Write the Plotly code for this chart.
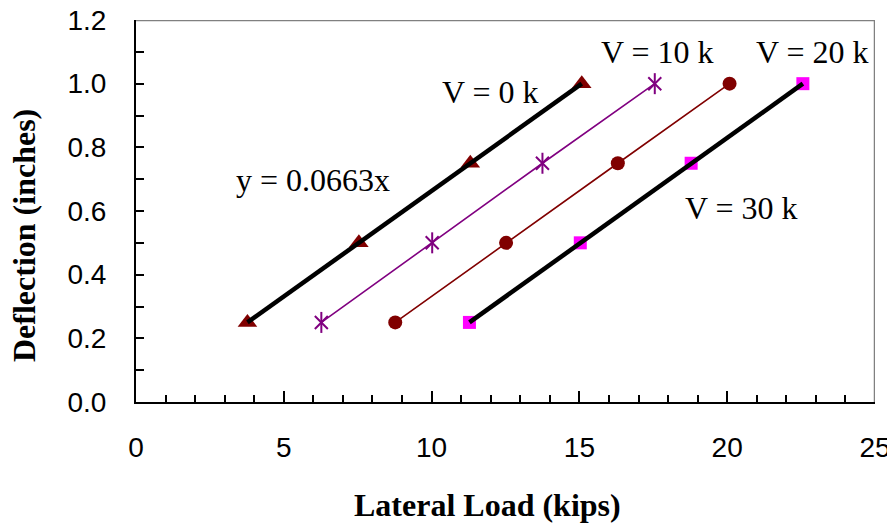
import plotly.graph_objects as go

# Data (lateral load in kips, deflection in inches)
deflection = [0.25, 0.50, 0.75, 1.00]
load_v0 = [3.77, 7.54, 11.31, 15.08]
load_v10 = [6.27, 10.02, 13.75, 17.55]
load_v20 = [8.77, 12.52, 16.30, 20.08]
load_v30 = [11.28, 15.03, 18.78, 22.56]

series_labels = ["V = 0 k", "V = 10 k", "V = 20 k", "V = 30 k"]
label_x = [12.0, 17.63, 22.87, 20.5]
label_y = [0.974, 1.10, 1.10, 0.609]
eq_text = "y = 0.0663x"
eq_x, eq_y = 5.99, 0.697

x_ticks = [0, 5, 10, 15, 20, 25]
y_ticks = [0.0, 0.2, 0.4, 0.6, 0.8, 1.0, 1.2]
x_range = [0, 25]
y_range = [0, 1.2]

fig = go.Figure()

# gray frame (top and right edges of the plot area), from the axis ranges
fig.add_trace(go.Scatter(x=[x_range[0], x_range[1], x_range[1]],
                         y=[y_range[1], y_range[1], y_range[0]],
                         mode="lines", line=dict(color="#808080", width=2.5),
                         cliponaxis=False, hoverinfo="skip"))

# V = 0 markers + black trend line
fig.add_trace(go.Scatter(x=load_v0, y=deflection, mode="markers",
                         marker=dict(symbol="triangle-up", size=17, color="#800000")))
fig.add_trace(go.Scatter(x=load_v0, y=deflection, mode="lines",
                         line=dict(color="black", width=4.5)))
# V = 10
fig.add_trace(go.Scatter(x=load_v10, y=deflection, mode="lines",
                         line=dict(color="#800080", width=1.6)))
fig.add_trace(go.Scatter(x=load_v10, y=deflection, mode="markers",
                         marker=dict(symbol="x-thin-open", size=13, color="#800080",
                                     line=dict(color="#800080", width=2))))
fig.add_trace(go.Scatter(x=load_v10, y=deflection, mode="markers",
                         marker=dict(symbol="line-ns-open", size=15, color="#800080",
                                     line=dict(color="#800080", width=2))))
# V = 20
fig.add_trace(go.Scatter(x=load_v20, y=deflection, mode="lines+markers",
                         line=dict(color="#800000", width=1.6),
                         marker=dict(symbol="circle", size=14, color="#800000")))
# V = 30
fig.add_trace(go.Scatter(x=load_v30, y=deflection, mode="markers",
                         marker=dict(symbol="square", size=13, color="#FF00FF")))
fig.add_trace(go.Scatter(x=load_v30, y=deflection, mode="lines",
                         line=dict(color="black", width=4.5)))

serif = "Liberation Serif, Times New Roman, serif"
for t, xv, yv in zip(series_labels, label_x, label_y):
    fig.add_annotation(x=xv, y=yv, text=t, showarrow=False,
                       xanchor="center", yanchor="middle",
                       font=dict(family=serif, size=32, color="black"))
fig.add_annotation(x=eq_x, y=eq_y, text=eq_text, showarrow=False,
                   xanchor="center", yanchor="middle",
                   font=dict(family=serif, size=32, color="black"))

# Axis titles as annotations
fig.add_annotation(xref="paper", yref="paper", x=(487 - 136) / 739, y=-(505 - 402) / 382,
                   xanchor="center", yanchor="middle",
                   text="<b>Lateral Load (kips)</b>", showarrow=False,
                   font=dict(family=serif, size=32, color="black"))
fig.add_annotation(xref="paper", yref="paper", x=-(136 - 24) / 739, y=(402 - 236) / 382,
                   xanchor="center", yanchor="middle",
                   text="<b>Deflection (inches)</b>", showarrow=False, textangle=-90,
                   font=dict(family=serif, size=32, color="black"))

tickfont = dict(family="Liberation Sans, Arial, sans-serif", size=28, color="black")
fig.update_layout(
    xaxis=dict(range=x_range, tickvals=x_ticks, ticks="inside", ticklen=11,
               tickwidth=1.5, tickcolor="black", showgrid=False, zeroline=False,
               showline=True, linecolor="black", linewidth=2, automargin=False,
               ticklabeloverflow="allow",
               minor=dict(dtick=1, ticks="inside", ticklen=7, tickcolor="black", tickwidth=1.5),
               tickfont=tickfont, ticklabelstandoff=19),
    yaxis=dict(range=y_range, tickvals=y_ticks, tickformat=".1f", ticks="inside", ticklen=8,
               tickwidth=1.5, tickcolor="black", showgrid=False, zeroline=False,
               showline=True, linecolor="black", linewidth=2, automargin=False,
               ticklabeloverflow="allow",
               minor=dict(dtick=0.1, ticks="inside", ticklen=8, tickcolor="black", tickwidth=1.5),
               tickfont=tickfont, ticklabelstandoff=22),
    width=887, height=517, showlegend=False,
    margin=dict(l=128, r=20, t=12, b=123),
    paper_bgcolor="white", plot_bgcolor="white")

fig.write_html("out.html")
